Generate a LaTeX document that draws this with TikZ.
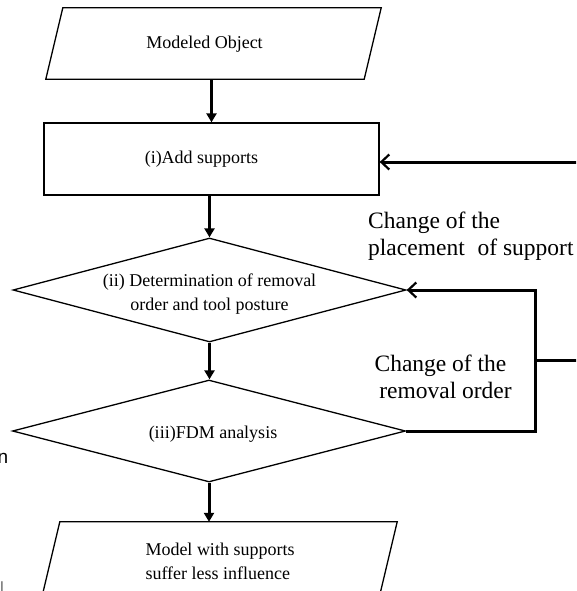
\documentclass[tikz,border=0pt]{standalone}
\usepackage{fontspec}
\setmainfont{Liberation Serif}
\newfontfamily\sansfnt{Liberation Sans}
\usetikzlibrary{arrows.meta,shapes.geometric}
\newcommand{\lowr}[2]{\raisebox{-#1}[\height][\depth]{#2}}
\begin{document}
\begin{tikzpicture}[x=1pt,y=-1pt,
  shapeline/.style={draw=black, line width=1.3pt},
  boxtxt/.style={font=\fontsize{18}{24}\selectfont, inner sep=0pt},
  flow/.style={line width=3pt, -{Triangle[length=9pt,width=10pt]}},
  fb/.style={line width=3pt, line join=miter, -{Straight Barb[length=8pt,width=15pt,line width=2.2pt]}},
  lbl/.style={font=\fontsize{23.5}{27}\selectfont, inner sep=0pt},
  frag/.style={font=\sansfnt\fontsize{19}{22}\selectfont, inner sep=0pt},
]
\useasboundingbox (0,0) rectangle (576,591);
\clip (0,0) rectangle (576,591);

% parallelogram 1
\node[boxtxt, minimum width=335pt, minimum height=71pt] (p1) at (213.5,43.5) {\hspace*{-18pt}\lowr{1pt}{Modeled Object}};
\draw[shapeline] ([xshift=17pt]p1.north west) -- (p1.north east) -- ([xshift=-17pt]p1.south east) -- (p1.south west) -- cycle;

% rectangle
\node[shapeline, boxtxt, minimum width=335pt, minimum height=72pt] (r1) at (211.5,159) {\hspace*{-20pt}(i)Add supports};

% diamond 1
\node[shapeline, boxtxt, diamond, aspect=3.78, minimum width=393pt, minimum height=104pt, align=center] (d1) at (209.5,290) {\lowr{4pt}{(ii) Determination of removal}\\\lowr{4pt}{order and tool posture}};

% diamond 2
\node[shapeline, boxtxt, diamond, aspect=3.85, minimum width=393pt, minimum height=102pt] (d2) at (209,431) {\hspace*{8pt}\lowr{3pt}{(iii)FDM analysis}};

% parallelogram 2
\node[boxtxt, minimum width=354pt, minimum height=71pt, align=left] (p2) at (220,557.5) {\lowr{4pt}{Model with supports}\\\lowr{4pt}{suffer less influence}};
\draw[shapeline] ([xshift=17pt]p2.north west) -- (p2.north east) -- ([xshift=-17pt]p2.south east) -- (p2.south west) -- cycle;

% main flow
\draw[flow] (r1.north |- p1.south) -- (r1.north);
\draw[flow] (d1.north |- r1.south) -- (d1.north);
\draw[flow] (d1.south) -- (d1.south |- d2.north);
\draw[flow] (d2.south) -- (d2.south |- p2.north);

% feedback
\coordinate (fbx) at (535,0);
\coordinate (brA) at (535,360);
\coordinate (brB) at (590,360);
\coordinate (topR) at (590,162);
\draw[fb] (d2.east) -- (d2.east -| fbx) -- (d1.east -| fbx) -- (d1.east);
\draw[line width=3pt] (brA) -- (brB);
\draw[fb] (topR) -- (r1.east |- topR);

% labels
\node[lbl, anchor=north west, align=left] (l1) at (368,212) {Change of the\\placement\ \hspace{7pt}of support};
\node[lbl, anchor=north, align=center] (l2) at (440.5,355) {Change of the\\\hspace*{10pt}removal\ order};

% cut-off fragments at the left edge
\node[frag, anchor=base east] (f1) at (8.5,463) {n};
\node[frag, anchor=north east, text=gray] (f2) at (4.3,582) {l};
\end{tikzpicture}
\end{document}
